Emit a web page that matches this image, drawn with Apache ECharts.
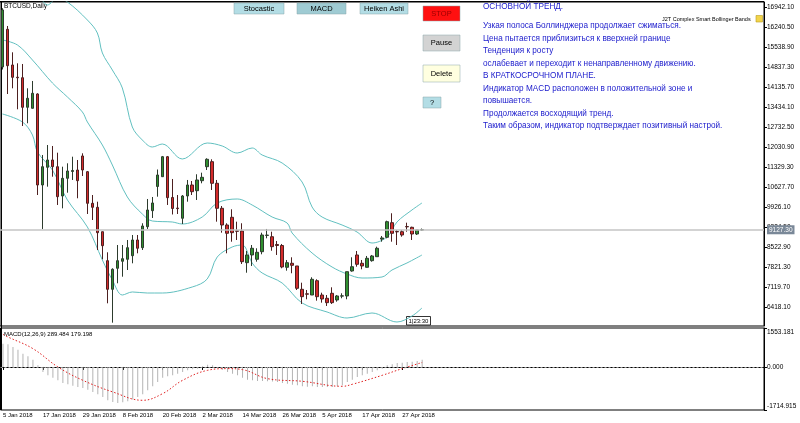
<!DOCTYPE html>
<html><head><meta charset="utf-8">
<script src="https://cdn.jsdelivr.net/npm/echarts@6/dist/echarts.min.js"></script>
<style>html,body{margin:0;padding:0;background:#fff}#c{width:800px;height:423px}</style>
</head><body><div id="c"></div>
<script>
// ---- data ----
const tickLabels = ['5 Jan 2018','17 Jan 2018','29 Jan 2018','8 Feb 2018','20 Feb 2018','2 Mar 2018','14 Mar 2018','26 Mar 2018','5 Apr 2018','17 Apr 2018','27 Apr 2018'];
const opens  = [14840,16160,14908,14480,14462,13424,13389,13891,10698,11319,11575,11340,10312,10933,11172,11224,11716,11165,10056,9916,9060,8043,7039,7776,8022,8092,8218,8769,8499,9235,9797,10646,10989,11691,10260,9890,9530,10312,10698,10498,10849,11340,11516,10758,9881,9295,9565,9090,9085,7973,8243,8092,8358,8930,8884,8611,8576,7811,7952,7857,7039,6880,6839,7341,6839,6724,6899,6664,6800,6805,7681,8243,7952,7811,8043,8183,8800,8864,9376,9065,9060,9240,9214,8979,9120];
const highs  = [16900,16276,15353,14967,14943,14090,14347,13915,11751,12101,12066,11831,11340,11459,11691,11575,11810,11189,10347,10112,9060,8337,7776,8593,8593,8769,8944,8944,9355,10207,10277,11242,11716,11716,10909,10347,10347,10874,10838,11074,11130,11635,11600,10874,9961,9355,9846,9411,9355,8383,8593,8478,9025,9155,9060,8734,8629,8067,8162,7857,7271,7015,7461,7390,6920,6839,7109,6839,6899,7657,8162,8383,8067,8208,8243,8534,8909,9446,9706,9120,9120,9376,9235,9120,9170];
const lows   = [14750,13890,14090,13354,12768,12863,13380,10347,9155,10639,10989,9997,9880,10428,10874,10232,11014,9681,9470,8418,8092,6548,5868,7250,7481,7716,7951,8302,8418,9155,9541,10288,10979,9997,9664,9681,9330,10112,10347,10172,10758,11224,10523,9411,9025,8302,8709,8769,7927,7621,7857,8008,8267,8828,8393,8243,7776,7692,7601,7015,6524,6688,6839,6640,6570,6454,6524,6604,6724,6689,7657,7832,7741,7800,8008,8183,8709,8828,8709,8593,8884,9060,8769,8944,9100];
const closes = [16840,14883,14476,14460,13424,13740,13915,10698,11340,11575,11340,10288,10933,11189,11207,10849,11224,10056,9916,9025,8569,7039,7741,8043,8113,8499,8769,8478,9260,9821,10067,11049,11691,10253,9874,9870,10312,10698,10463,10874,10968,11600,10758,9881,9295,9004,9025,9075,8008,8243,8478,8337,8944,8940,8534,8576,7822,7973,7881,7074,6780,6868,7390,6780,6699,6570,6570,6805,6810,7657,7832,7916,7857,8127,8208,8478,8840,9411,9004,9055,8944,9230,8979,9120,9127.3];
const upperBand  = [[0,17679],[7,17363],[9,17013],[11,17258],[13,17118],[17,16486],[19,16030],[20,15329],[22,14732],[24,14101],[26,12732],[28,12277],[30,12031],[32,12136],[36,11610],[41,12171],[44,12066],[47,11820],[50,11996],[52,11750],[56,11470],[60,10803],[62,9926],[64,9575],[68,9295],[71,9049],[74,8663],[77,8874],[79,9400],[82,9821],[84,10067]];
const middleBand = [[0,15785],[3,15609],[6,15083],[10,14276],[13,13785],[16,13259],[17,12908],[20,12101],[22,11400],[25,10277],[28,9681],[30,9435],[34,9400],[36,9330],[40,9575],[43,10067],[47,10207],[50,9996],[54,9575],[57,9365],[58,9014],[62,8312],[66,7821],[69,7576],[72,7435],[76,7470],[78,7716],[81,7962],[84,8242]];
const lowerBand  = [[0,13189],[4,12908],[6,12452],[7,11856],[10,11224],[13,10172],[17,9225],[20,8067],[22,7365],[24,6839],[26,6945],[29,6909],[32,6909],[38,7120],[41,7401],[43,8172],[46,8523],[48,8593],[50,7962],[52,7611],[56,7260],[60,6559],[65,6243],[69,6032],[74,6208],[79,5892],[82,6102],[84,6383]];
const macdHist = [930,903,797,691,531,425,292,66,-199,-332,-425,-531,-637,-691,-744,-797,-837,-903,-996,-1090,-1196,-1328,-1394,-1434,-1408,-1368,-1301,-1196,-1090,-930,-770,-598,-425,-372,-332,-266,-199,-133,-93,-66,27,93,66,-5,-106,-199,-266,-332,-425,-505,-531,-558,-558,-571,-584,-598,-637,-664,-704,-730,-770,-784,-770,-797,-797,-797,-797,-770,-730,-598,-505,-398,-332,-266,-199,-133,-66,66,106,159,173,199,212,239,289.484];
const macdSignal = [[0,1300],[1,1195],[6,730],[11,0],[16,-531],[22,-996],[28,-1328],[32,-1062],[36,-531],[41,-133],[45,-66],[48,-106],[53,-465],[60,-571],[68,-770],[70,-690],[76,-332],[80,-66],[84,179.198]];
const priceTicks = [16942.10,16240.50,15538.90,14837.30,14135.70,13434.10,12732.50,12030.90,11329.30,10627.70,9926.10,9224.50,8522.90,7821.30,7119.70,6418.10];
const macdTicks = [1553.181, 0, -1714.915];
const commentLines = ['Узкая полоса Боллинджера продолжает сжиматься.','Цена пытается приблизиться к вверхней границе','Тенденция к росту','ослабевает и переходит к ненаправленному движению.','В КРАТКОСРОЧНОМ ПЛАНЕ.','Индикатор MACD расположен в положительной зоне и','повышается.','Продолжается восходящий тренд.','Таким образом, индикатор подтверждает позитивный настрой.'];

// ---- build chart ----
const SLOTS = 153;
const categories = Array.from({length: SLOTS}, (_, i) => i);
const candles = opens.map((o, i) => [o, closes[i], lows[i], highs[i]]);
const lastClose = closes[closes.length - 1];
const FONT = 'Liberation Sans';
const tickIdx = i => i % 8 === 0 && i / 8 < tickLabels.length;

function button(x, y, w, h, fill, text, color) {
  return {type: 'group', children: [
    {type: 'rect', z: 10, shape: {x, y, width: w, height: h}, style: {fill, stroke: '#8aa4aa', lineWidth: 0.5}},
    {type: 'text', z: 11, x: x + w / 2, y: y + h / 2, style: {text, fill: color || '#000', font: '7.5px ' + FONT, align: 'center', verticalAlign: 'middle'}}
  ]};
}

const graphics = [
  {type: 'line', shape: {x1: 1.5, y1: 1, x2: 1.5, y2: 410}, style: {stroke: '#000', lineWidth: 1}},
  {type: 'line', shape: {x1: 0, y1: 1.5, x2: 764, y2: 1.5}, style: {stroke: '#000', lineWidth: 1}},
  {type: 'text', x: 4, y: 6, style: {text: 'BTCUSD,Daily', fill: '#000', font: '6.5px ' + FONT, verticalAlign: 'middle'}},
  button(234, 3, 50, 11, '#b3dde5', 'Stocastic'),
  button(297, 3, 49, 11, '#9fcbd3', 'MACD'),
  button(360, 3, 48, 11, '#b3dde5', 'Heiken Ashi'),
  button(423, 6, 37, 15, '#ff1010', 'STOP', '#9a0000'),
  button(423, 35, 37, 16, '#d3d3d3', 'Pause'),
  button(423, 65, 37, 17, '#ffffe0', 'Delete'),
  button(423, 97, 18, 11, '#b3dde5', '?'),
  {type: 'text', x: 483, y: 7, style: {text: 'ОСНОВНОЙ ТРЕНД.', fill: '#1a1acc', font: '8.2px ' + FONT, verticalAlign: 'middle'}},
  {type: 'text', x: 662, y: 19, style: {text: 'J2T Complex Smart Bollinger Bands', fill: '#000', font: '5.5px ' + FONT, verticalAlign: 'middle'}},
  {type: 'rect', shape: {x: 756, y: 15.5, width: 6.5, height: 6.5}, style: {fill: '#f2d44a', stroke: '#b89a20', lineWidth: 0.6}},
  {type: 'group', children: [
    {type: 'rect', shape: {x: 406.5, y: 316.5, width: 24, height: 8.5}, style: {fill: '#fff', stroke: '#000', lineWidth: 0.8}},
    {type: 'text', x: 418.5, y: 321, style: {text: '1|23:30', fill: '#000', font: '6px ' + FONT, align: 'center', verticalAlign: 'middle'}}
  ]},
  {type: 'text', x: 4, y: 334, style: {text: 'MACD(12,26,9) ' + macdHist[macdHist.length - 1].toFixed(3) + ' ' + macdSignal[macdSignal.length - 1][1].toFixed(3), fill: '#000', font: '6px ' + FONT, verticalAlign: 'middle'}}
];
commentLines.forEach((t, i) => graphics.push({type: 'text', x: 483, y: 26 + i * 12.5, style: {text: t, fill: '#1a1acc', font: '8.2px ' + FONT, verticalAlign: 'middle'}}));

const bandStyle = {type: 'line', xAxisIndex: 0, yAxisIndex: 0, symbol: 'none', smooth: 0.35, lineStyle: {color: '#62c0c0', width: 1}, silent: true, z: 1};

const option = {
  animation: false,
  backgroundColor: '#fff',
  grid: [
    {left: -1, right: 36, top: 2, height: 324, show: true, borderColor: '#000', borderWidth: 1},
    {left: -1, right: 36, top: 328, height: 82, show: true, borderColor: '#000', borderWidth: 1}
  ],
  xAxis: [
    {type: 'category', gridIndex: 0, data: categories, boundaryGap: true, axisLine: {show: false}, axisTick: {show: false}, axisLabel: {show: false}},
    {type: 'category', gridIndex: 1, data: categories, boundaryGap: true,
      axisLine: {show: true, lineStyle: {color: '#000'}},
      axisTick: {show: true, interval: i => tickIdx(i), alignWithLabel: true, length: 3, lineStyle: {color: '#000'}},
      axisLabel: {interval: i => tickIdx(i), formatter: (v, i) => tickIdx(i) ? tickLabels[i / 8] : '', align: 'left', margin: 2, fontSize: 6, fontFamily: FONT, color: '#000'}}
  ],
  yAxis: [
    {type: 'value', gridIndex: 0, position: 'right', min: 5751.6, max: 17117.5, splitLine: {show: false},
      axisLine: {show: true, lineStyle: {color: '#000'}},
      axisTick: {show: true, length: 3, customValues: priceTicks, lineStyle: {color: '#000'}},
      axisLabel: {customValues: priceTicks, formatter: v => v.toFixed(2), fontSize: 6.5, fontFamily: FONT, color: '#000', margin: 3}},
    {type: 'value', gridIndex: 1, position: 'right', min: -1714.915, max: 1553.181, splitLine: {show: false},
      axisLine: {show: true, lineStyle: {color: '#000'}},
      axisTick: {show: true, length: 3, customValues: macdTicks, lineStyle: {color: '#000'}},
      axisLabel: {customValues: macdTicks, fontSize: 6.5, fontFamily: FONT, color: '#000', margin: 3,
        formatter: v => v > 0 ? '{top|' + v.toFixed(3) + '}' : v < 0 ? '{bot|' + v.toFixed(3) + '}' : v.toFixed(3),
        rich: {top: {fontSize: 6.5, fontFamily: FONT, padding: [9, 0, 0, 0]}, bot: {fontSize: 6.5, fontFamily: FONT, padding: [0, 0, 7, 0]}}}}
  ],
  series: [
    Object.assign({name: 'upper', data: upperBand}, bandStyle),
    Object.assign({name: 'middle', data: middleBand}, bandStyle),
    Object.assign({name: 'lower', data: lowerBand}, bandStyle),
    {type: 'candlestick', xAxisIndex: 0, yAxisIndex: 0, data: candles, barWidth: 3, z: 3,
      itemStyle: {color: '#2f8f2f', color0: '#d42a2a', borderColor: '#2d3b2d', borderColor0: '#4d2020', borderWidth: 1},
      markLine: {silent: true, symbol: 'none', data: [{yAxis: lastClose}],
        lineStyle: {color: '#c4c4c4', width: 1.5, type: 'solid'},
        label: {show: true, position: 'end', formatter: () => lastClose.toFixed(2), backgroundColor: '#7a8898', color: '#fff', fontSize: 6.5, fontFamily: FONT, padding: [1, 2], distance: 3}}},
    {type: 'bar', xAxisIndex: 1, yAxisIndex: 1, data: macdHist, barWidth: 1, itemStyle: {color: '#b4b4b4'}, silent: true,
      markLine: {silent: true, symbol: 'none', data: [{yAxis: 0}], label: {show: false}, lineStyle: {color: '#9a9a9a', width: 1, type: [2, 2]}}},
    {type: 'line', xAxisIndex: 1, yAxisIndex: 1, data: macdSignal, symbol: 'none', smooth: 0.4, silent: true,
      lineStyle: {color: '#e02020', width: 1, type: [1.5, 2]}}
  ],
  graphic: graphics
};
const chart = echarts.init(document.getElementById('c'));
chart.setOption(option);
</script></body></html>
